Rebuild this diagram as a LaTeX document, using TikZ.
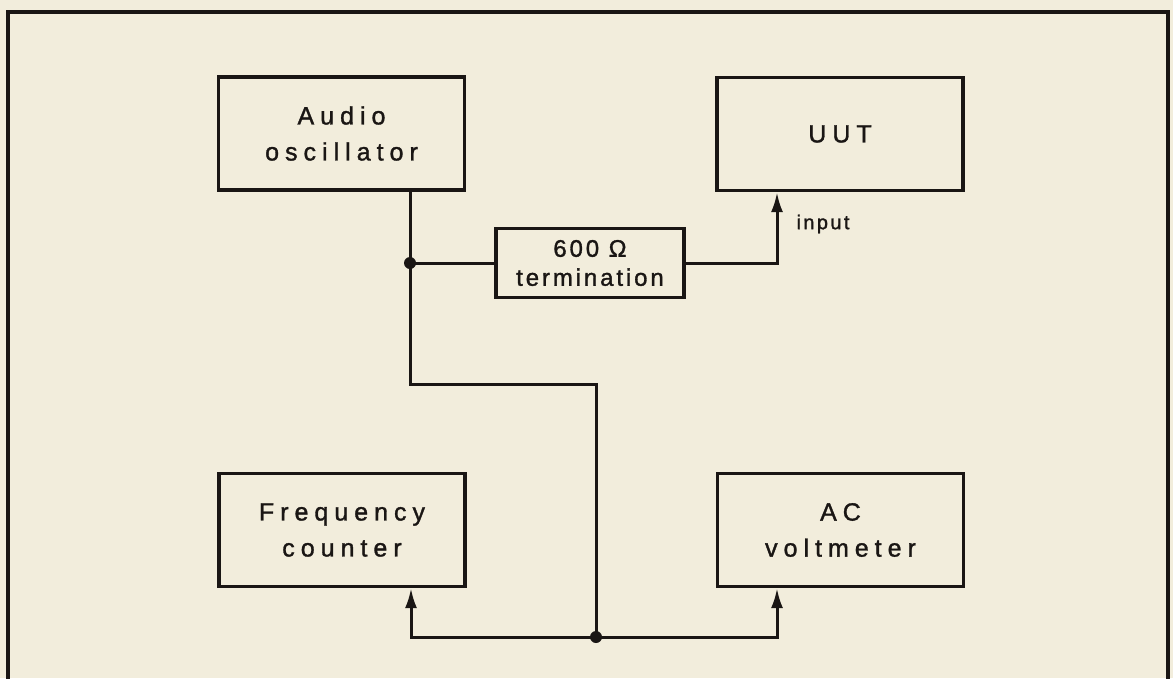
\documentclass[tikz,border=0pt]{standalone}
\usepackage{fontspec}
\setmainfont{Liberation Sans}[LetterSpace=24,FakeBold=1.3]
\newfontfamily\termfont{Liberation Sans}[LetterSpace=12,FakeBold=1.3]
\usetikzlibrary{arrows.meta}
\definecolor{paper}{HTML}{F2EDDC}
\definecolor{ink}{HTML}{1A1614}
\begin{document}
\begin{tikzpicture}[x=1pt,y=-1pt,
  block/.style={draw=ink, line width=3.2pt, minimum width=246pt, minimum height=113pt,
    align=center, text=ink, font=\fontsize{25}{36}\selectfont, inner sep=0pt},
  termbox/.style={draw=ink, line width=3.2pt, minimum width=188pt, minimum height=69pt,
    align=center, text=ink, font=\termfont\fontsize{24}{29}\selectfont, inner sep=0pt},
  wire/.style={draw=ink, line width=3pt},
  feed/.style={wire, -{Latex[length=20pt,width=12pt]}},
  dot/.style={circle, fill=ink, inner sep=0pt, minimum size=12pt}]
\useasboundingbox (0,0) rectangle (1173,678);
\fill[paper] (0,0) rectangle (1173,678);
\draw[ink, line width=3.2pt] (8,690) -- (8,12) -- (1168,12) -- (1168,690);
\node[block] (osc) at (341.5,133.5) {Audio\\oscillator};
\node[block] (uut) at (840,134) {UUT};
\node[termbox] (term) at (590,263) {600 Ω\\termination};
\node[block] (freq) at (342,530) {Frequency\\counter};
\node[block] (acv) at (840.5,530) {AC\\voltmeter};
\node[dot] (j1) at (410,263) {};
\node[dot] (j2) at (596,637) {};
\coordinate (b1) at (410,384);
\coordinate (b2) at (596,384);
\node[text=ink, font=\termfont\fontsize{20}{22}\selectfont, anchor=west] (inp) at (793,224) {input};
\draw[wire] (osc.south -| j1) -- (j1.center);
\draw[wire] (j1.center) -- (term.west);
\draw[feed] (term.east) -| (uut.south -| 777,0);
\draw[wire] (j1.center) -- (b1) -- (b2) -- (j2.center);
\draw[feed] (j2.center) -| (freq.south -| 411,0);
\draw[feed] (j2.center) -| (acv.south -| 777,0);
\end{tikzpicture}
\end{document}
